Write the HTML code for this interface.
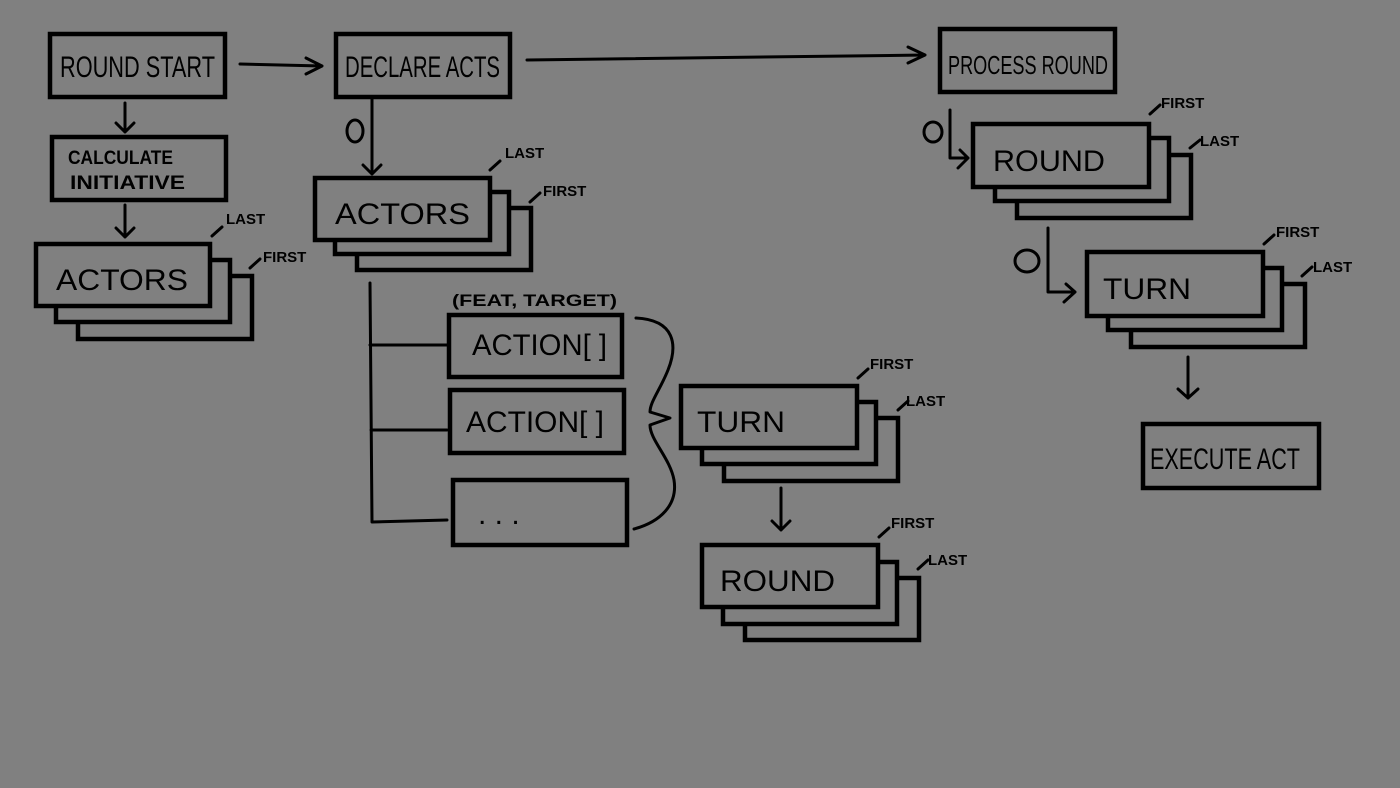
<!DOCTYPE html>
<html><head><meta charset="utf-8"><style>
html,body{margin:0;padding:0;background:#808080;}
svg{display:block}
text{font-family:"Liberation Sans Narrow","Liberation Sans",sans-serif;fill:#000;}
.b{fill:#808080;stroke:#000;stroke-width:4.5;}
.l{fill:none;stroke:#000;stroke-width:3;stroke-linecap:round;stroke-linejoin:round;}
.t{font-size:30px;}
.s{font-size:15px;font-weight:bold;}
</style></head><body>
<svg width="1400" height="788" viewBox="0 0 1400 788" xmlns="http://www.w3.org/2000/svg">
<rect width="1400" height="788" fill="#808080"/>
<!-- top boxes -->
<rect class="b" x="50" y="34" width="175" height="63"/>
<text class="t" x="60" y="77" textLength="155" lengthAdjust="spacingAndGlyphs">ROUND START</text>
<rect class="b" x="336" y="34" width="174" height="63"/>
<text class="t" x="345" y="77" textLength="155" lengthAdjust="spacingAndGlyphs">DECLARE ACTS</text>
<rect class="b" x="940" y="29" width="175" height="63"/>
<text class="t" x="948" y="74" textLength="160" lengthAdjust="spacingAndGlyphs" style="font-size:26px">PROCESS ROUND</text>
<path class="l" d="M240 64 L322 66 M306 58 L322 66 L306 74"/>
<path class="l" d="M527 60 L925 55 M908 47 L925 55 L908 63"/>
<!-- left column -->
<path class="l" d="M125 103 L125 132 M116 123 L125 132 L134 123"/>
<rect class="b" x="52" y="137" width="174" height="63"/>
<text class="s" x="68" y="164" style="font-size:19px" textLength="105" lengthAdjust="spacingAndGlyphs">CALCULATE</text>
<text class="s" x="70" y="189" style="font-size:19px" textLength="115" lengthAdjust="spacingAndGlyphs">INITIATIVE</text>
<path class="l" d="M125 205 L125 237 M116 228 L125 237 L134 228"/>
<rect class="b" x="78" y="276" width="174" height="63"/>
<rect class="b" x="56" y="260" width="174" height="62"/>
<rect class="b" x="36" y="244" width="174" height="62"/>
<text class="t" x="56" y="290" textLength="132" lengthAdjust="spacingAndGlyphs">ACTORS</text>
<path class="l" d="M212 236 L222 227"/><text class="s" x="226" y="224">LAST</text>
<path class="l" d="M250 268 L260 259"/><text class="s" x="263" y="262">FIRST</text>
<!-- middle column -->
<path class="l" d="M372 98 L372 174 M363 165 L372 174 L381 165"/>
<ellipse class="l" cx="355" cy="131" rx="8" ry="11"/>
<rect class="b" x="357" y="208" width="174" height="62"/>
<rect class="b" x="335" y="192" width="174" height="62"/>
<rect class="b" x="315" y="178" width="175" height="62"/>
<text class="t" x="335" y="224" textLength="135" lengthAdjust="spacingAndGlyphs">ACTORS</text>
<path class="l" d="M490 170 L500 161"/><text class="s" x="505" y="158">LAST</text>
<path class="l" d="M530 202 L540 193"/><text class="s" x="543" y="196">FIRST</text>
<path class="l" d="M370 283 L372 522 M370 345 L447 345 M371 430 L447 430 M372 522 L447 520"/>
<text class="s" x="452" y="306" style="font-size:17px" textLength="165" lengthAdjust="spacingAndGlyphs">(FEAT, TARGET)</text>
<rect class="b" x="449" y="315" width="173" height="62"/>
<text class="t" x="472" y="355" textLength="135" lengthAdjust="spacingAndGlyphs">ACTION[ ]</text>
<rect class="b" x="450" y="390" width="174" height="63"/>
<text class="t" x="466" y="432" textLength="138" lengthAdjust="spacingAndGlyphs">ACTION[ ]</text>
<rect class="b" x="453" y="480" width="174" height="65"/>
<text class="t" x="478" y="524">. . .</text>
<path class="l" d="M636 318 C675 320 678 345 668 370 C660 390 650 402 650 412 L670 418 L650 425 C650 440 670 458 674 480 C678 505 660 522 634 529"/>
<!-- middle turn/round -->
<rect class="b" x="724" y="418" width="174" height="63"/>
<rect class="b" x="702" y="402" width="174" height="62"/>
<rect class="b" x="681" y="386" width="176" height="62"/>
<text class="t" x="697" y="432" textLength="88" lengthAdjust="spacingAndGlyphs">TURN</text>
<path class="l" d="M858 378 L868 369"/><text class="s" x="870" y="369">FIRST</text>
<path class="l" d="M898 410 L908 401"/><text class="s" x="906" y="406">LAST</text>
<path class="l" d="M781 488 L781 530 M772 521 L781 530 L790 521"/>
<rect class="b" x="745" y="578" width="174" height="62"/>
<rect class="b" x="723" y="562" width="174" height="62"/>
<rect class="b" x="702" y="545" width="176" height="62"/>
<text class="t" x="720" y="591" textLength="115" lengthAdjust="spacingAndGlyphs">ROUND</text>
<path class="l" d="M879 537 L889 528"/><text class="s" x="891" y="528">FIRST</text>
<path class="l" d="M918 569 L928 560"/><text class="s" x="928" y="565">LAST</text>
<!-- right column -->
<ellipse class="l" cx="933" cy="132" rx="9" ry="10"/>
<path class="l" d="M950 110 L950 158 L968 158 M960 150 L968 158 L958 168"/>
<rect class="b" x="1017" y="155" width="174" height="63"/>
<rect class="b" x="995" y="138" width="174" height="63"/>
<rect class="b" x="973" y="124" width="176" height="63"/>
<text class="t" x="993" y="171" textLength="112" lengthAdjust="spacingAndGlyphs">ROUND</text>
<path class="l" d="M1150 114 L1160 105"/><text class="s" x="1161" y="108">FIRST</text>
<path class="l" d="M1190 148 L1200 140"/><text class="s" x="1200" y="146">LAST</text>
<ellipse class="l" cx="1027" cy="261" rx="12" ry="11"/>
<path class="l" d="M1048 228 L1048 292 L1075 292 M1066 284 L1075 292 L1064 302"/>
<rect class="b" x="1131" y="284" width="174" height="63"/>
<rect class="b" x="1108" y="268" width="174" height="62"/>
<rect class="b" x="1087" y="252" width="176" height="64"/>
<text class="t" x="1103" y="299" textLength="88" lengthAdjust="spacingAndGlyphs">TURN</text>
<path class="l" d="M1264 244 L1274 235"/><text class="s" x="1276" y="237">FIRST</text>
<path class="l" d="M1302 276 L1312 267"/><text class="s" x="1313" y="272">LAST</text>
<path class="l" d="M1188 357 L1188 398 M1178 389 L1188 398 L1198 389"/>
<rect class="b" x="1143" y="424" width="176" height="64"/>
<text class="t" x="1150" y="469" textLength="150" lengthAdjust="spacingAndGlyphs">EXECUTE ACT</text>
</svg>
</body></html>
